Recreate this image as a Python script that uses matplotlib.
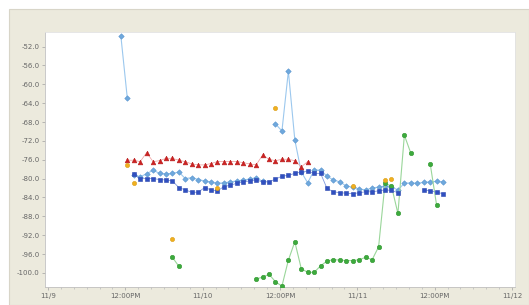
import numpy as np
import matplotlib
matplotlib.use("Agg")
import matplotlib.pyplot as plt
import matplotlib.dates as mdates
from matplotlib.patches import Rectangle
from datetime import datetime, timedelta

# ---------------- data (hour offsets from 11/9 00:00, dBm values) ----------------
red_hours = list(range(12, 41))
red_vals = [-76.1, -76.1, -76.4, -74.5, -76.4, -76.2, -75.7, -75.7, -76.1, -76.4,
            -76.9, -77.1, -77.1, -76.8, -76.4, -76.4, -76.4, -76.4, -76.6, -76.9,
            -77.1, -75.0, -75.9, -76.2, -75.9, -75.9, -76.2, -77.5, -76.4]

dblue_hours = list(range(13, 55)) + [55] + [58, 59, 60, 61]
dblue_vals = [-79.1, -80.0, -80.0, -80.0, -80.2, -80.3, -80.5, -81.9, -82.4, -82.9,
              -82.9, -81.9, -82.4, -82.6, -81.7, -81.4, -81.0, -80.7, -80.5, -80.3,
              -80.7, -80.7, -80.1, -79.5, -79.3, -78.9, -78.6, -78.4, -78.9, -78.9,
              -82.1, -82.8, -83.0, -83.1, -83.2, -83.0, -82.8, -82.8, -82.6, -82.4,
              -82.5, -83.0, np.nan, -82.4, -82.6, -82.9, -83.2]

lblue_hours = [11, 12, 12.5] + list(range(13, 34)) + [34] + list(range(35, 62))
lblue_vals = [-49.7, -62.9, np.nan,
              -79.2, -79.6, -79.0, -78.2, -78.9, -79.0, -78.9, -78.6, -80.0, -79.8,
              -80.2, -80.5, -80.7, -81.0, -80.9, -80.7, -80.5, -80.3, -80.1, -79.8, -80.6,
              np.nan,
              -68.4, -69.9, -57.2, -71.8, -78.6, -80.9, -78.2, -78.2, -79.5, -80.3,
              -80.7, -81.6, -81.8, -82.2, -82.4, -82.0, -81.8, -81.6, -81.8, -82.4,
              -81.0, -80.9, -81.0, -80.8, -80.7, -80.6, -80.7]

green_hours = [19, 20, 25] + list(range(32, 57)) + [58, 59, 60]
green_vals = [-96.7, -98.6, np.nan,
              -101.3, -100.9, -100.3, -101.9, -102.8, -97.3, -93.4, -99.1, -99.9, -99.9,
              -98.5, -97.5, -97.2, -97.3, -97.4, -97.4, -97.2, -96.7, -97.2, -94.5,
              -81.0, -81.6, -87.4, -70.8, -74.6,
              np.nan, -76.8, -85.6]

yellow_hours = [12, 13, 19, 26, 35, 47, 52, 53]
yellow_vals = [-77.2, -80.9, -92.9, -82.0, -65.0, -81.6, -80.2, -80.0]

y_ticks = [-52.0, -56.0, -60.0, -64.0, -68.0, -72.0, -76.0, -80.0,
           -84.0, -88.0, -92.0, -96.0, -100.0]

base = datetime(2008, 11, 9)
sample_offset = 0.3  # samples taken a little after the hour


def to_times(hours):
    return [base + timedelta(hours=h + sample_offset) for h in hours]


# ---------------- figure ----------------
W, H = 529, 305
fig = plt.figure(figsize=(W / 100, H / 100), dpi=100)
fig.patch.set_facecolor("white")
fig.patches.append(Rectangle((9 / W, 0), 1 - 9 / W, 1 - 9 / H, transform=fig.transFigure,
                             facecolor="#ECEADD", edgecolor="#D8D5C8", linewidth=0.8,
                             zorder=-10))

ax = fig.add_axes([45 / W, 1 - 287 / H, (515 - 45) / W, (287 - 32) / H])
ax.set_zorder(5)
ax.set_facecolor("white")

ax.plot(to_times(lblue_hours), lblue_vals, color="#9CC8EE", lw=0.8, marker="D", ms=2.8,
        mfc="#6FA8DC", mec="#5A96D0", mew=0.4, zorder=3)
ax.plot(to_times(dblue_hours), dblue_vals, color="#7F98DD", lw=0.6, marker="s", ms=3.2,
        mfc="#3050C0", mec="#2A46B0", mew=0.4, zorder=4)
ax.plot(to_times(red_hours), red_vals, color="#EE9A9A", lw=0.5, marker="^", ms=3.4,
        mfc="#CC2222", mec="#B81C1C", mew=0.4, zorder=5)
ax.plot(to_times(green_hours), green_vals, color="#9AD69A", lw=0.8, marker="o", ms=3.2,
        mfc="#3DAA3D", mec="#2F962F", mew=0.4, zorder=3)
ax.plot(to_times(yellow_hours), yellow_vals, linestyle="none", marker="o", ms=3.0,
        mfc="#F0B020", mec="#D89A10", mew=0.4, zorder=6)

ax.set_ylim(-103.0, -48.9)
ax.set_xlim(base - timedelta(hours=0.47), base + timedelta(hours=72.47))
ax.set_yticks(y_ticks)
ax.set_yticklabels([f"{v:.1f}" for v in y_ticks])

ax.xaxis.set_major_locator(mdates.HourLocator(byhour=[0, 12]))
ax.xaxis.set_minor_locator(mdates.HourLocator(interval=2))


def fmt(x, pos=None):
    d = mdates.num2date(x)
    if d.hour == 0:
        return f"{d.month}/{d.day}"
    return "12:00PM"


ax.xaxis.set_major_formatter(plt.FuncFormatter(fmt))

ax.tick_params(axis="both", labelsize=5, colors="#A0A0A0", labelcolor="#666666",
               length=2, width=0.5, pad=2)
ax.tick_params(axis="x", which="minor", length=1.5, width=0.5, colors="#B8B8B8")
for s in ["top", "right"]:
    ax.spines[s].set_color("#E2E2E2")
    ax.spines[s].set_linewidth(0.6)
for s in ["left", "bottom"]:
    ax.spines[s].set_color("#C0C0C0")
    ax.spines[s].set_linewidth(0.6)

fig.savefig("out.png", dpi=100)
